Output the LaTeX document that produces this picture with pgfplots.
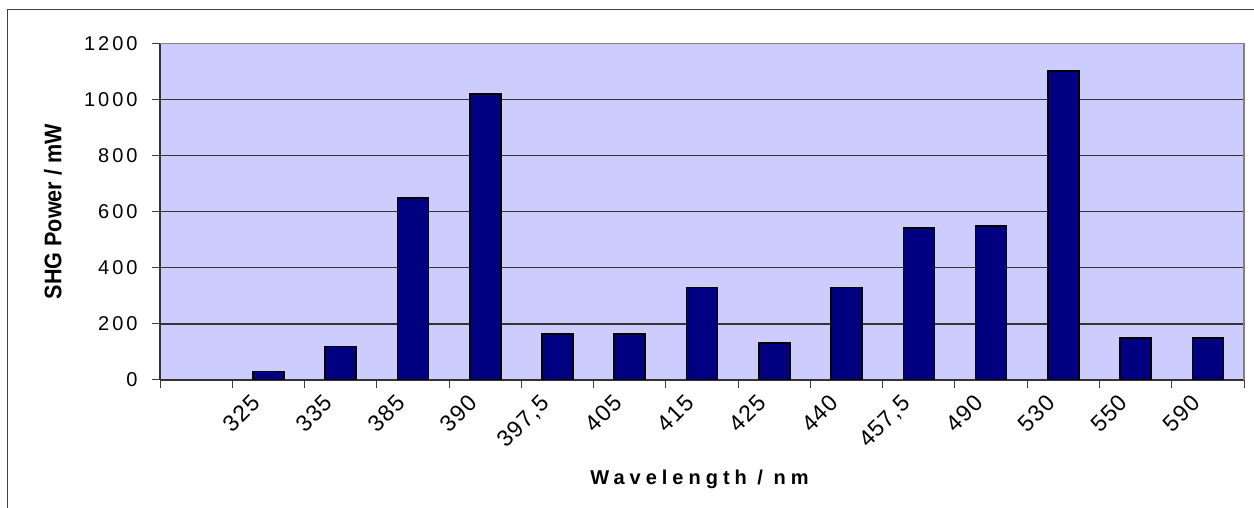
\documentclass[border=0pt]{standalone}
\usepackage{fontspec}
\setmainfont{Liberation Sans}
\newfontfamily\spaced[LetterSpace=15]{Liberation Sans}
\newfontfamily\catfont[LetterSpace=5]{Liberation Sans}
\newfontfamily\xlab[LetterSpace=25]{Liberation Sans}
\usepackage{pgfplots}
\pgfplotsset{compat=1.18}
\definecolor{plotbg}{RGB}{204,204,255}
\definecolor{barnavy}{RGB}{0,0,128}
\definecolor{framegray}{RGB}{128,128,128}

% SHG power per pump wavelength (category 0 is an empty slot)
\pgfplotstableread{
x  power
1  30
2  120
3  650
4  1020
5  165
6  165
7  330
8  133
9  330
10 542
11 549
12 1102
13 150
14 150
}\shgdata

\begin{document}
\begin{tikzpicture}[x=1pt,y=1pt]
\useasboundingbox (0,0) rectangle (627,254);
\draw[line width=0.5pt, black!75] (3.5,-20) -- (3.5,249) -- (650,249);
\begin{axis}[
    at={(80pt,64pt)}, anchor=south west,
    scale only axis,
    width=542pt, height=168.25pt,
    xmin=-0.5, xmax=14.5,
    ymin=0, ymax=1200,
    axis lines=left,
    axis line style={-, line width=0.6pt, black!80},
    axis background/.style={fill=plotbg},
    tick align=outside,
    major tick length=4pt,
    tick style={line width=0.5pt, black!75},
    /pgf/number format/.cd, 1000 sep={}, assume math mode=true, /pgfplots/.cd,
    xtick={-0.5,0.5,...,14.5},
    xticklabels={},
    extra x ticks={1,2,...,14},
    extra x tick labels={325,335,385,390,{397,5},405,415,425,440,{457,5},490,530,550,590},
    extra x tick style={major tick length=0pt, grid=none,
        tick label style={font=\fontsize{11.5}{13}\selectfont\catfont, inner sep=0pt,
            xshift=-9pt, yshift=-6.5pt, rotate=45, anchor=north east}},
    ytick={0,200,...,1200},
    yticklabel style={font=\fontsize{10}{12}\selectfont\spaced, inner sep=0pt,
        anchor=east, xshift=-7pt},
    ymajorgrids,
    grid style={line width=0.6pt, black!80},
    xlabel={\textbf{\xlab Wavelength / nm}},
    xlabel style={font=\fontsize{10}{12}\selectfont\bfseries,
        at={(axis description cs:0.5,0)}, anchor=center, yshift=-49.5pt},
    ylabel={\scalebox{0.9}[1]{\bfseries SHG Power / mW}},
    ylabel style={font=\fontsize{12}{14}\selectfont,
        at={(axis description cs:0,0.5)}, anchor=center, yshift=53.5pt},
    after end axis/.code={
        \draw[framegray, line width=0.8pt] (rel axis cs:0,1) -- (rel axis cs:1,1) -- (rel axis cs:1,0);
    },
]
\addplot[ybar, bar width=15.5pt, fill=barnavy, draw=black, line width=0.8pt]
    table[x=x, y=power] {\shgdata};
\end{axis}
\end{tikzpicture}
\end{document}
